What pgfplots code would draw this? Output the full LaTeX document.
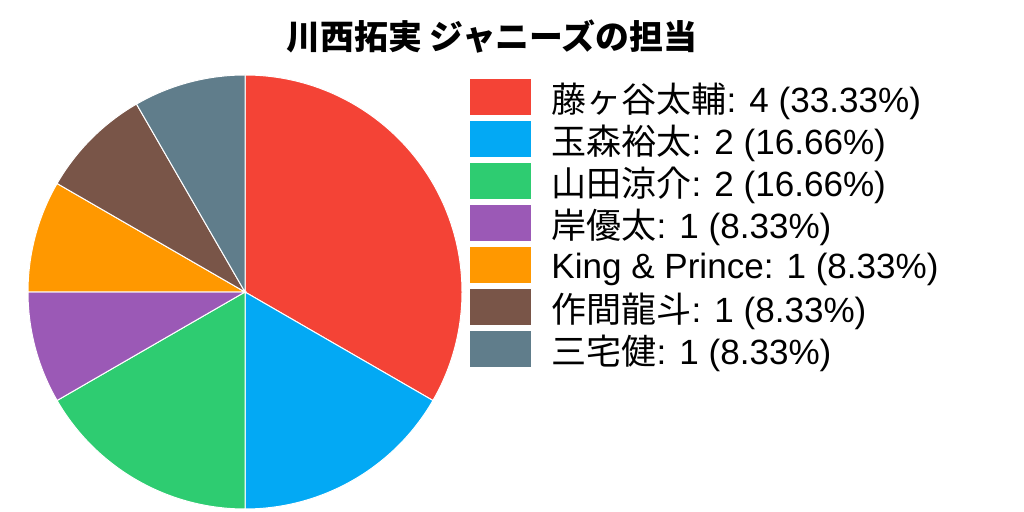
\documentclass[border=0pt]{standalone}
\usepackage{fontspec}
\setmainfont{Noto Sans CJK JP}
\newfontfamily\latin{Liberation Sans}
\usepackage{pgfplots}
\usepackage{pgfplotstable}
\pgfplotsset{compat=1.18}

\definecolor{c0}{HTML}{F44336}
\definecolor{c1}{HTML}{03A9F4}
\definecolor{c2}{HTML}{2ECC71}
\definecolor{c3}{HTML}{9B59B6}
\definecolor{c4}{HTML}{FF9800}
\definecolor{c5}{HTML}{795548}
\definecolor{c6}{HTML}{607D8B}

% counts per member, in legend order
\pgfplotstableread{
idx value
0 4
1 2
2 2
3 1
4 1
5 1
6 1
}\piedata

% total, then start/end angle of each slice (clockwise from the top)
\gdef\pietotal{0}
\foreach \i in {0,...,6}{%
  \pgfplotstablegetelem{\i}{value}\of\piedata
  \pgfmathsetmacro\tmp{\pietotal+\pgfplotsretval}%
  \global\let\pietotal\tmp
}
\gdef\curang{90}
\foreach \i in {0,...,6}{%
  \pgfplotstablegetelem{\i}{value}\of\piedata
  \pgfmathsetmacro\nextang{\curang-360*\pgfplotsretval/\pietotal}%
  \expandafter\xdef\csname pa\i\endcsname{\curang}%
  \expandafter\xdef\csname pb\i\endcsname{\nextang}%
  \global\let\curang\nextang
}

\begin{document}
\begin{tikzpicture}
\begin{axis}[
    scale only axis,
    width=512bp, height=256bp,
    xmin=0, xmax=1024, ymin=0, ymax=512,
    hide axis, clip=false,
]
% page frame
\path (axis cs:0,0) rectangle (axis cs:1024,512);

% pie
\pgfplotsinvokeforeach{0,...,6}{
  \filldraw[fill=c#1, draw=white, line width=0.5pt]
    (axis cs:245,220) -- ++(\csname pa#1\endcsname:108.5bp)
    arc[start angle=\csname pa#1\endcsname, end angle=\csname pb#1\endcsname, radius=108.5bp] -- cycle;
  \fill[c#1] (axis cs:470,{397-42*#1}) rectangle (axis cs:531,{433-42*#1});
}

% legend text
\begin{scope}[every node/.style={anchor=west, inner sep=0pt, font=\fontsize{17.6}{20}\selectfont}]
\node at (axis cs:551,411) {藤ヶ谷太輔{\latin: 4 (33.33\%)}};
\node at (axis cs:551,369) {玉森裕太{\latin: 2 (16.66\%)}};
\node at (axis cs:551,327) {山田涼介{\latin: 2 (16.66\%)}};
\node at (axis cs:551,285) {岸優太{\latin: 1 (8.33\%)}};
\node at (axis cs:551,243) {{\latin King \& Prince: 1 (8.33\%)}};
\node at (axis cs:551,201) {作間龍斗{\latin: 1 (8.33\%)}};
\node at (axis cs:551,159) {三宅健{\latin: 1 (8.33\%)}};
\end{scope}

% title
\node[font=\fontsize{17}{20}\selectfont\bfseries] at (axis cs:492,475) {川西拓実 ジャニーズの担当};
\end{axis}
\end{tikzpicture}
\end{document}
